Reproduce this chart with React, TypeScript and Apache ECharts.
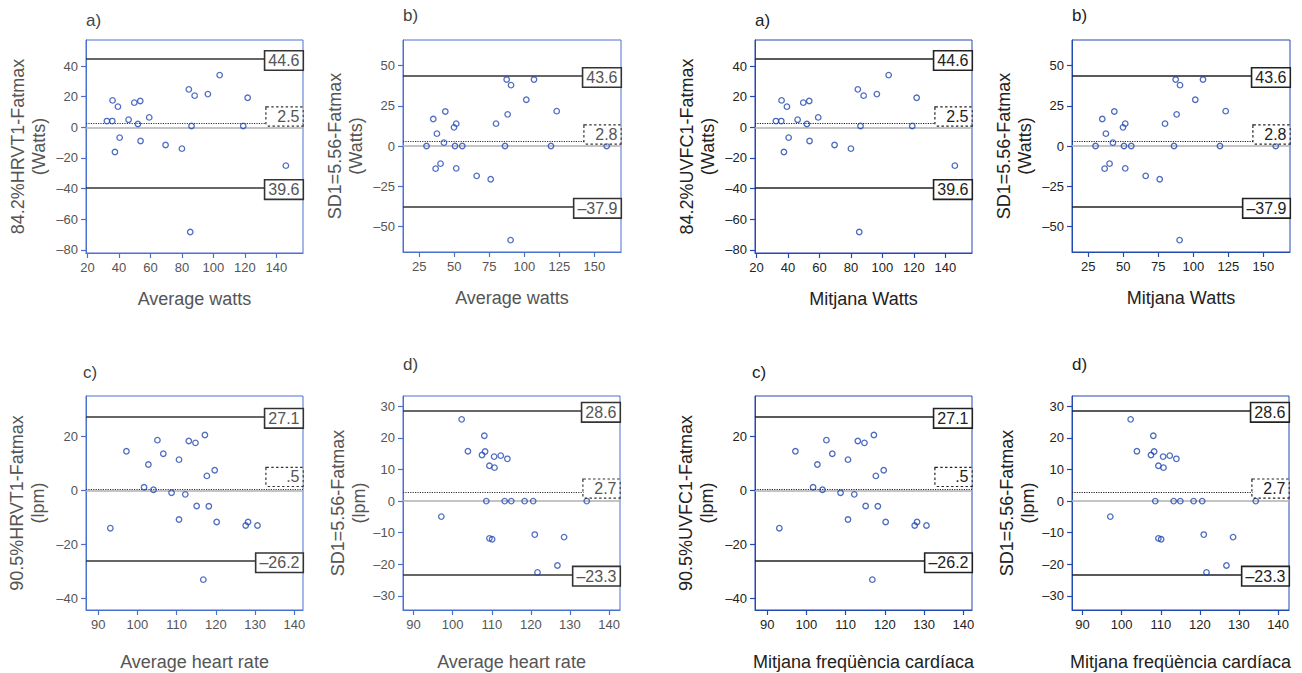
import React, { useEffect, useRef } from "react";
import * as echarts from "echarts";

// ---------- data ----------
// Panel a: average watts vs difference (84.2% HRVT1 - Fatmax)
const aX = [32.3, 35.7, 35.9, 37.4, 39.3, 40.4, 46.1, 49.7, 52.0, 53.5, 53.7, 59.2, 69.6, 80.0, 84.4, 86.1, 88.1, 85.3, 96.5, 104.0, 119.0, 121.8, 146.1];
const aY = [4.1, 4.1, 17.6, -16.1, 13.5, -6.7, 5.0, 16.1, 2.2, 17.2, -8.9, 6.5, -11.5, -13.9, 24.8, 0.9, 20.7, -68.3, 21.7, 34.1, 0.9, 19.3, -25.0];
// Panel b: average watts vs difference (SD1=5.56 - Fatmax)
const bX = [30.2, 35.0, 37.6, 36.7, 40.2, 42.6, 43.6, 49.8, 51.4, 50.5, 51.4, 55.7, 66.0, 76.0, 79.8, 86.2, 87.4, 88.1, 90.5, 90.2, 101.4, 106.9, 119.0, 123.1, 158.8];
const bY = [0, 16.8, 7.7, -14.1, -11.0, 2.1, 21.5, 11.6, 13.9, 0, -13.9, 0, -18.6, -20.7, 13.9, 0, 41.4, 19.7, 37.9, -58.6, 28.8, 41.4, 0, 21.7, 0];
// Panel c: average heart rate vs difference (90.5% HRVT1 - Fatmax)
const cX = [93.1, 97.2, 101.7, 102.8, 104.1, 105.1, 106.6, 108.7, 110.6, 110.6, 112.2, 113.1, 114.8, 115.1, 117.2, 116.8, 117.7, 118.2, 119.7, 120.2, 127.6, 128.2, 130.6];
const cY = [-14.0, 14.4, 1.1, 9.5, 0.2, 18.5, 13.5, -0.9, 11.3, -10.8, -1.5, 18.2, 17.5, -5.8, 20.4, -33.0, 5.3, -5.9, 7.4, -11.7, -13.0, -11.7, -13.0];
// Panel d: average heart rate vs difference (SD1=5.56 - Fatmax)
const dX = [97.1, 102.3, 103.9, 107.5, 108.1, 108.3, 108.6, 109.4, 109.4, 110.1, 110.6, 110.7, 112.3, 113.3, 114.0, 115.0, 118.4, 120.6, 121.0, 121.7, 126.8, 128.5, 134.3];
const dY = [-4.9, 25.9, 15.8, 14.6, 20.7, 15.7, 0, 11.2, -11.8, -12.1, 14.1, 10.6, 14.4, 0, 13.4, 0, 0, 0, -10.6, -22.6, -20.4, -11.4, 0];

const meanValues = [2.5, 2.8, 0.5, 2.7];
const meanLabels = ["2.5", "2.8", ".5", "2.7"];
const upperValues = [44.6, 43.6, 27.1, 28.6];
const upperLabels = ["44.6", "43.6", "27.1", "28.6"];
const lowerValues = [-39.6, -37.9, -26.2, -23.3];
const lowerLabels = ["39.6", "\u201337.9", "\u201326.2", "\u201323.3"];

const xTicks = [
  [20, 40, 60, 80, 100, 120, 140],
  [25, 50, 75, 100, 125, 150],
  [90, 100, 110, 120, 130, 140],
  [90, 100, 110, 120, 130, 140],
];
const yTicks = [
  [-80, -60, -40, -20, 0, 20, 40],
  [-50, -25, 0, 25, 50],
  [-40, -20, 0, 20],
  [-30, -20, -10, 0, 10, 20, 30],
];

const panelLetters = ["a)", "b)", "c)", "d)"];
const xNamesEn = ["Average watts", "Average watts", "Average heart rate", "Average heart rate"];
const yNamesEn = ["84.2%HRVT1-Fatmax\n(Watts)", "SD1=5.56-Fatmax\n(Watts)", "90.5%HRVT1-Fatmax\n(lpm)", "SD1=5.56-Fatmax\n(lpm)"];
const xNamesCa = ["Mitjana Watts", "Mitjana Watts", "Mitjana freqüència cardíaca", "Mitjana freqüència cardíaca"];
const yNamesCa = ["84.2%UVFC1-Fatmax\n(Watts)", "SD1=5.56-Fatmax\n(Watts)", "90.5%UVFC1-Fatmax\n(lpm)", "SD1=5.56-Fatmax\n(lpm)"];

const xsAll = [aX, bX, cX, dX];
const ysAll = [aY, bY, cY, dY];

// ---------- layout ----------
const xRange = [[19, 157], [13.4, 169], [86.9, 142.2], [87.3, 142.8]];
const yRange = [[-82, 57], [-66, 66], [-44.2, 34.8], [-34.5, 33.3]];
const gridBoxes = [
  { left: 86, top: 40, width: 217, height: 213 },
  { left: 403, top: 40, width: 218, height: 212 },
  { left: 86, top: 396, width: 217, height: 214 },
  { left: 403, top: 396, width: 217, height: 214 },
];
const rightShift = 669;
const letterPos = [
  { left: 86, top: 12 },
  { left: 403, top: 7 },
  { left: 83, top: 364 },
  { left: 403, top: 356 },
];
const meanLabelOffset = [-7, -7, -12, -4];
const yNameGap = [37, 37, 38, 33];
const xNameGap = [37, 37, 43, 43];

const FONT = "'Liberation Sans', Arial, Helvetica, sans-serif";

const fmt = (v: number) => (v < 0 ? "\u2013" + Math.abs(v) : String(v));

function buildOption() {
  const grid: any[] = [];
  const xAxis: any[] = [];
  const yAxis: any[] = [];
  const series: any[] = [];
  const title: any[] = [];

  for (let p = 0; p < 8; p++) {
    const k = p % 4;
    const right = p >= 4;
    const shift = right ? rightShift : 0;
    const boxBlue = right ? "#2449b3" : "#4a71cf";
    const textCol = right ? "#222" : "#555";
    const lineCol = right ? "#222" : "#333";
    const g = gridBoxes[k];
    grid.push({
      left: g.left + shift,
      top: g.top,
      width: g.width,
      height: g.height,
      show: true,
      borderColor: boxBlue,
      borderWidth: 1,
      backgroundColor: "transparent",
      containLabel: false,
      outerBoundsMode: "none",
    });
    title.push({
      text: panelLetters[k],
      left: letterPos[k].left + shift,
      top: letterPos[k].top,
      padding: 0,
      textStyle: { fontSize: 17, fontWeight: "normal", color: right ? "#222" : "#444", fontFamily: FONT },
    });
    xAxis.push({
      type: "value",
      gridIndex: p,
      min: xRange[k][0],
      max: xRange[k][1],
      name: right ? xNamesCa[k] : xNamesEn[k],
      nameLocation: "middle",
      nameGap: xNameGap[k],
      nameTextStyle: { fontSize: 18, color: textCol, fontFamily: FONT },
      axisLine: { show: true, onZero: false, lineStyle: { color: boxBlue, width: 1 } },
      axisTick: { show: true, length: 5, customValues: xTicks[k], lineStyle: { color: boxBlue, width: 1.2 } },
      axisLabel: { customValues: xTicks[k], formatter: fmt, color: textCol, fontSize: 13, margin: 8, fontFamily: FONT },
      splitLine: { show: false },
    });
    yAxis.push({
      type: "value",
      gridIndex: p,
      min: yRange[k][0],
      max: yRange[k][1],
      name: right ? yNamesCa[k] : yNamesEn[k],
      nameLocation: "middle",
      nameGap: yNameGap[k],
      nameTextStyle: { fontSize: 18, lineHeight: 21, color: textCol, fontFamily: FONT },
      axisLine: { show: true, onZero: false, lineStyle: { color: boxBlue, width: 1 } },
      axisTick: { show: true, length: 5, customValues: yTicks[k], lineStyle: { color: boxBlue, width: 1.2 } },
      axisLabel: { customValues: yTicks[k], formatter: fmt, color: textCol, fontSize: 13, margin: 8, fontFamily: FONT },
      splitLine: { show: false },
    });

    const boxLabel = (text: string, dotted: boolean, dy: number) => ({
      show: true,
      position: "left",
      distance: 0,
      offset: [0, dy],
      formatter: text,
      fontSize: 16,
      lineHeight: 16,
      fontFamily: FONT,
      color: textCol,
      backgroundColor: "#fff",
      borderColor: lineCol,
      borderWidth: dotted ? 1.2 : 1.6,
      borderType: dotted ? "dotted" : "solid",
      padding: [1, 3, 1, 3],
      ...(dotted ? { width: 30, align: "right" } : {}),
    });

    const xmax = xRange[k][1];
    series.push({
      type: "scatter",
      xAxisIndex: p,
      yAxisIndex: p,
      data: xsAll[k].map((x, i) => [x, ysAll[k][i]]),
      symbol: "circle",
      symbolSize: 5.5,
      z: 3,
      itemStyle: { color: "rgba(255,255,255,0)", borderColor: right ? "#1d45ad" : "#2349b5", borderWidth: 1.3 },
      markLine: {
        silent: true,
        symbol: "none",
        z: 2,
        label: { show: false },
        data: [
          { yAxis: 0, lineStyle: { color: "#b0b0b0", width: 1.5, type: "solid" } },
          { yAxis: meanValues[k], lineStyle: { color: lineCol, width: 1.2, type: "dotted" } },
          { yAxis: upperValues[k], lineStyle: { color: lineCol, width: 1.5, type: "solid" } },
          { yAxis: lowerValues[k], lineStyle: { color: lineCol, width: 1.5, type: "solid" } },
        ],
      },
      markPoint: {
        silent: true,
        symbol: "rect",
        symbolSize: 1,
        z: 10,
        itemStyle: { color: "rgba(0,0,0,0)" },
        data: [
          { coord: [xmax, meanValues[k]], label: boxLabel(meanLabels[k], true, meanLabelOffset[k]) },
          { coord: [xmax, upperValues[k]], label: boxLabel(upperLabels[k], false, 1.5) },
          { coord: [xmax, lowerValues[k]], label: boxLabel(lowerLabels[k], false, 1.5) },
        ],
      },
    });
  }

  return {
    animation: false,
    backgroundColor: "#fff",
    textStyle: { fontFamily: FONT },
    title,
    grid,
    xAxis,
    yAxis,
    series,
  };
}

export default function App() {
  const ref = useRef<HTMLDivElement>(null);
  useEffect(() => {
    if (!ref.current) return;
    const chart = echarts.init(ref.current, undefined, { renderer: "svg" });
    chart.setOption(buildOption() as any);
    return () => chart.dispose();
  }, []);
  return (
    <div
      ref={ref}
      style={{ position: "absolute", left: 0, top: 0, width: 1302, height: 673 }}
    />
  );
}
